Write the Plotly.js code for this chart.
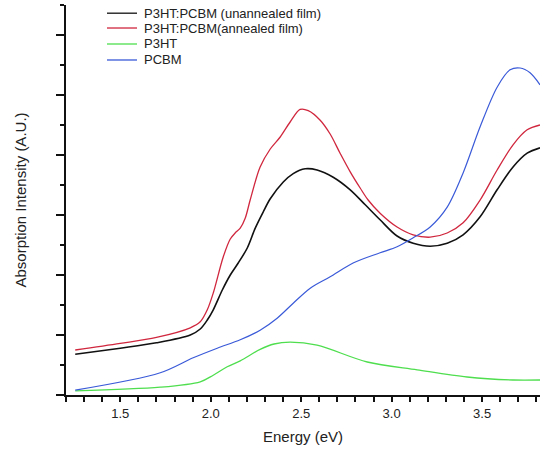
<!DOCTYPE html>
<html>
<head>
<meta charset="utf-8">
<script src="https://cdn.plot.ly/plotly-3.0.1.min.js"></script>
<style>html,body{margin:0;padding:0;background:#fff;}#chart{width:540px;height:454px;}</style>
</head>
<body>
<div id="chart"></div>
<script>
// Energy (eV) / absorption (A.U.)
const unannealedX = [1.251, 1.50, 1.70, 1.887, 1.942, 1.981, 2.014, 2.064, 2.108, 2.152, 2.202, 2.246, 2.290, 2.329, 2.401, 2.456, 2.522, 2.588, 2.677, 2.771, 2.854, 2.936, 3.030, 3.119, 3.213, 3.307, 3.395, 3.489, 3.583, 3.671, 3.749, 3.820];
const unannealedY = [0.68, 0.78, 0.87, 1.00, 1.10, 1.25, 1.42, 1.75, 2.00, 2.20, 2.45, 2.78, 3.05, 3.27, 3.55, 3.69, 3.77, 3.75, 3.63, 3.42, 3.17, 2.92, 2.65, 2.53, 2.48, 2.53, 2.67, 2.97, 3.42, 3.80, 4.03, 4.12];

const annealedX = [1.251, 1.50, 1.70, 1.887, 1.942, 1.981, 2.014, 2.069, 2.108, 2.135, 2.163, 2.191, 2.218, 2.273, 2.329, 2.384, 2.439, 2.494, 2.539, 2.605, 2.660, 2.715, 2.771, 2.826, 2.870, 2.936, 3.030, 3.119, 3.213, 3.307, 3.395, 3.489, 3.583, 3.671, 3.749, 3.820];
const annealedY = [0.75, 0.86, 0.96, 1.12, 1.22, 1.42, 1.70, 2.30, 2.60, 2.70, 2.78, 2.95, 3.25, 3.80, 4.10, 4.30, 4.55, 4.76, 4.74, 4.58, 4.35, 4.03, 3.72, 3.45, 3.25, 3.03, 2.80, 2.67, 2.63, 2.70, 2.87, 3.25, 3.75, 4.17, 4.42, 4.50];

const p3htX = [1.251, 1.721, 1.942, 2.014, 2.091, 2.163, 2.273, 2.350, 2.439, 2.588, 2.865, 3.141, 3.417, 3.671, 3.820];
const p3htY = [0.07, 0.13, 0.22, 0.33, 0.47, 0.57, 0.76, 0.85, 0.88, 0.83, 0.55, 0.42, 0.30, 0.25, 0.25];

const pcbmX = [1.251, 1.721, 1.903, 2.036, 2.163, 2.273, 2.367, 2.456, 2.550, 2.660, 2.787, 2.936, 3.030, 3.119, 3.213, 3.307, 3.395, 3.489, 3.583, 3.655, 3.710, 3.765, 3.820];
const pcbmY = [0.08, 0.37, 0.62, 0.78, 0.92, 1.08, 1.28, 1.53, 1.78, 1.97, 2.20, 2.37, 2.47, 2.62, 2.80, 3.13, 3.70, 4.47, 5.13, 5.42, 5.45, 5.37, 5.17];

const seriesNames = ["P3HT:PCBM (unannealed film)", "P3HT:PCBM(annealed film)", "P3HT", "PCBM"];
const seriesColors = ["#111111", "#d0273e", "#4ede4e", "#3a5ad8"];
const seriesWidths = [1.6, 1.3, 1.3, 1.2];
const xs = [unannealedX, annealedX, p3htX, pcbmX];
const ys = [unannealedY, annealedY, p3htY, pcbmY];

const font = "Liberation Sans, Arial, sans-serif";
const traces = xs.map((x, i) => ({
  type: "scatter", mode: "lines", x: x, y: ys[i], name: seriesNames[i], showlegend: false,
  line: {color: seriesColors[i], width: seriesWidths[i], shape: "spline", smoothing: 0.9}
}));

// hand-placed legend (compact rows as in the reference)
const legendRowsY = [0.979, 0.941, 0.900, 0.859];
const shapes = [];
const annotations = [];
seriesNames.forEach((n, i) => {
  shapes.push({type: "line", xref: "paper", yref: "paper", x0: 0.0865, x1: 0.1498, y0: legendRowsY[i], y1: legendRowsY[i],
    line: {color: seriesColors[i], width: 1.3}});
  annotations.push({xref: "paper", yref: "paper", x: 0.160, y: legendRowsY[i], xanchor: "left", yanchor: "middle",
    text: n, showarrow: false, font: {size: 13, family: font, color: "#222"}});
});
// short extension of the x axis line to the left of the y axis
shapes.push({type: "line", xref: "paper", yref: "paper", x0: -0.019, x1: 0, y0: 0, y1: 0, line: {color: "#111", width: 2}});

const layout = {
  width: 540, height: 454,
  margin: {l: 66, r: 0, t: 5, b: 59},
  paper_bgcolor: "#fff", plot_bgcolor: "#fff",
  font: {family: font, color: "#222", size: 12},
  showlegend: false,
  shapes: shapes, annotations: annotations,
  xaxis: {
    range: [1.2, 3.82], showgrid: false, zeroline: false,
    showline: true, linecolor: "#111", linewidth: 2,
    ticks: "outside", ticklen: 5, tickwidth: 2, tickcolor: "#111",
    tick0: 1.5, dtick: 0.5, tickformat: ".1f",
    tickfont: {size: 13, family: font, color: "#222"},
    minor: {dtick: 0.1, tick0: 1.2, ticks: "outside", ticklen: 5, tickwidth: 2, tickcolor: "#111", showgrid: false},
    title: {text: "Energy (eV)", font: {size: 15, family: font, color: "#222"}, standoff: 12}
  },
  yaxis: {
    range: [0, 6.5], showgrid: false, zeroline: false,
    showline: true, linecolor: "#111", linewidth: 2,
    ticks: "outside", ticklen: 8, tickwidth: 2, tickcolor: "#111",
    tick0: 0, dtick: 1, showticklabels: false,
    minor: {dtick: 0.5, ticks: "outside", ticklen: 4, tickwidth: 2, tickcolor: "#111", showgrid: false},
    title: {text: "Absorption Intensity (A.U.)", font: {size: 15, family: font, color: "#222"}, standoff: 26}
  }
};

Plotly.newPlot("chart", traces, layout, {displayModeBar: false, staticPlot: true});
</script>
</body>
</html>
